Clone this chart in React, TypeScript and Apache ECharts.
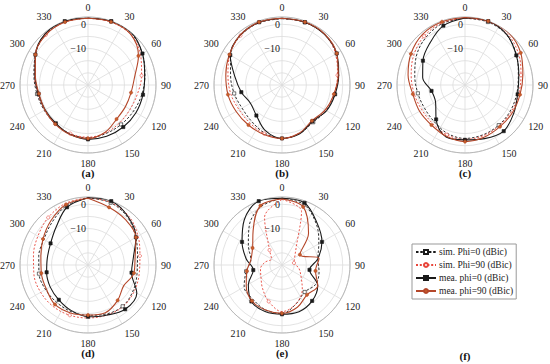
import React, { useEffect, useRef } from 'react';
import * as echarts from 'echarts';

// sample angles (deg, clockwise from top)
const ANGLES = [0, 20, 40, 60, 80, 100, 120, 140, 160, 180, 200, 220, 240, 260, 280, 300, 320, 340];
const ANGLE_TICKS = [0, 30, 60, 90, 120, 150, 180, 210, 240, 270, 300, 330];
const RADIAL_LABELS = [0, -10];
const PANEL_LABELS = ['(a)', '(b)', '(c)', '(d)', '(e)', '(f)'];
const SERIES_NAMES = ['sim. Phi=0 (dBic)', 'sim. Phi=90 (dBic)', 'mea. phi=0 (dBic)', 'mea. phi=90 (dBic)'];

// (a)
const A_SIM0 = [2.5, 2.8, 2.7, 0.8, -1.2, -2.5, -3.4, -3.8, -3.7, -3.2, -3.6, -4.1, -4.2, -3.7, -2.4, 0, 2.2, 2.8];
const A_SIM90 = [2.5, 2.6, 2.2, 0, -2.6, -4.3, -5, -4.7, -4, -3.5, -3.7, -4.1, -4.4, -4.1, -2.6, 0, 2, 2.6];
const A_MEA0 = [2.5, 3, 3, 0.9, -1.3, -2, -2.2, -2.4, -2.5, -2.6, -3.4, -4.4, -4.6, -4.3, -2.8, 0, 2.5, 3];
const A_MEA90 = [2.5, 2.7, 2.3, -1, -5.5, -7, -7.2, -6.7, -4.3, -3, -3.3, -4, -4.5, -4.5, -3, 0, 2, 2.6];
// (b)
const B_SIM0 = [2.3, 2.5, 2.2, 0.8, -1.4, -3, -4, -5, -3.8, -3, -4, -5.5, -6, -5, -3.5, -0.5, 1.5, 2.3];
const B_SIM90 = [2.4, 2.5, 2.2, 0.5, -1.8, -3.3, -4.2, -5.2, -4, -3, -3.7, -4.5, -4.6, -3.6, -2.4, -0.2, 1.6, 2.4];
const B_MEA0 = [2.5, 2.5, 2.2, 1, -1.3, -2.8, -3.8, -5.5, -3.6, -3, -5, -8.6, -10, -8, -5.3, -0.4, 1.8, 2.5];
const B_MEA90 = [2.5, 2.6, 2.4, 1, -1.5, -3.3, -4.5, -5.8, -4, -3, -3.3, -3.5, -3.2, -2.4, -1.5, 0, 1.8, 2.6];
// (c)
const C_SIM0 = [2.5, 2.6, 1.8, -0.5, -2.7, -3.4, -3.5, -3.4, -3.2, -3, -3.8, -5.3, -5.8, -5.3, -4, -1.8, 0.3, 2];
const C_SIM90 = [2.6, 2.8, 2.3, 0.5, -1.6, -2.6, -3, -3.1, -2.8, -2.6, -3.2, -4.3, -4.5, -3.8, -2.5, -0.6, 1.2, 2.3];
const C_MEA0 = [2.6, 3, 1.9, -0.6, -2.5, -3, -1.8, -0.2, -1.5, -2.4, -2.2, -6.5, -11, -11, -7.3, -5, -2.5, 1];
const C_MEA90 = [2.8, 3, 3, 1.5, -0.8, -2, -2.4, -2.6, -2.1, -1.7, -2.5, -3.5, -3.4, -3.2, -1.2, 0.7, 2.2, 2.7];
// (d)
const D_SIM0 = [2.6, 2.3, 0.5, -2.3, -4.3, -4.5, -3.6, -2.8, -3.5, -4.3, -4.6, -4.9, -4.8, -4.5, -4.4, -4, -2, 1];
const D_SIM90 = [2.7, 2.4, 1.2, -1.2, -3.3, -3.6, -3.1, -2.6, -3, -3.2, -3, -2.7, -2.5, -2.4, -2.2, -1.2, 0.5, 2];
const D_MEA0 = [2.7, 3, 0.8, -2.2, -6, -6.8, -1.8, -1.2, -3, -3.7, -5, -6.3, -7, -7.7, -8, -7.2, -4.6, 0.3];
const D_MEA90 = [2.5, 0.3, -0.8, -2.2, -5.3, -5.8, -8, -6, -4.1, -4.4, -4, -3.8, -5.2, -5.5, -5.3, -3.6, -1.2, 1.5];
// (e)
const E_SIM0 = [2.5, 1.5, -3, -7.5, -10, -9.5, -9, -10.5, -8, -5, -5.3, -6.5, -7, -10, -12, -9, -4, 0.5];
const E_SIM90 = [2, -1.5, -16, -19, -20, -18, -16, -12, -8, -5.8, -9, -12.5, -15, -16, -18, -20, -17, -4];
const E_MEA0 = [2.5, 2.2, -2.5, -6, -10, -13.5, -8, -5.7, -4.5, -4.7, -4.6, -5.4, -9, -13, -10, -6, -0.8, 3];
const E_MEA90 = [2.2, 0.5, -8, -16.5, -9.5, -11, -8, -9, -6.5, -5.1, -5.3, -5.7, -8, -10.3, -12, -11, -6.5, 1];

const PANELS = [
  [A_SIM0, A_SIM90, A_MEA0, A_MEA90],
  [B_SIM0, B_SIM90, B_MEA0, B_MEA90],
  [C_SIM0, C_SIM90, C_MEA0, C_MEA90],
  [D_SIM0, D_SIM90, D_MEA0, D_MEA90],
  [E_SIM0, E_SIM90, E_MEA0, E_MEA90],
];

const CENTERS = [[88, 85], [282, 85], [465, 85], [88, 265], [282, 265]];
const LABEL_POS = [[88, 173], [282, 173], [465, 173], [88, 353], [282, 353], [465, 356]];
const RADIUS = 68;
const SERIF = 'Liberation Serif';

const BLACK = '#1a1a1a';
const RED = '#e8453a';
const BROWN = '#b4472a';

const STYLES = [
  { color: BLACK, dash: [2.5, 1.8] as any, width: 0.9, symbol: 'rect', fill: '#fff', markerMod: [6, 1] },
  { color: RED, dash: [2, 1.8] as any, width: 0.9, symbol: 'circle', fill: '#fff', markerMod: [6, 4] },
  { color: BLACK, dash: 'solid', width: 1.1, symbol: 'rect', fill: BLACK, markerMod: [2, 1] },
  { color: BROWN, dash: 'solid', width: 1.1, symbol: 'circle', fill: '#c8602a', markerMod: [2, 1] },
];

export default function App() {
  const ref = useRef<HTMLDivElement>(null);
  useEffect(() => {
    document.body.style.margin = '0';
    const chart = echarts.init(ref.current!, null, { renderer: 'svg' });

    const polar = CENTERS.map((c) => ({ center: c, radius: RADIUS }));
    const angleAxis = CENTERS.map((_, i) => ({
      polarIndex: i,
      type: 'value',
      min: 0,
      max: 360,
      interval: 30,
      startAngle: 90,
      clockwise: true,
      axisLine: { show: true, lineStyle: { color: '#b8b8b8', width: 1 } },
      axisTick: { show: false },
      axisLabel: {
        margin: 5,
        fontFamily: SERIF,
        fontSize: 10,
        color: '#222',
        formatter: (v: number) => (ANGLE_TICKS.includes(v) ? String(v) : ''),
      },
      splitLine: { show: true, lineStyle: { color: '#dcdcdc', width: 0.8 } },
    }));
    const radiusAxis = CENTERS.map((_, i) => ({
      polarIndex: i,
      type: 'value',
      min: -25,
      max: 3,
      interval: 5,
      axisLine: { show: false },
      axisTick: { show: false },
      axisLabel: {
        margin: 2,
        fontFamily: SERIF,
        fontSize: 10,
        color: '#222',
        formatter: (v: number) => (RADIAL_LABELS.includes(v) ? (v < 0 ? '\u2212' + Math.abs(v) : String(v)) : ''),
      },
      splitLine: { show: true, lineStyle: { color: '#dcdcdc', width: 0.8 } },
    }));

    const series: any[] = [];
    PANELS.forEach((panel, p) => {
      panel.forEach((vals, s) => {
        const st = STYLES[s];
        const data: any[] = ANGLES.map((a, i) => {
          const isMarker = i % st.markerMod[0] === st.markerMod[1];
          return isMarker ? { value: [vals[i], a] } : { value: [vals[i], a], symbol: 'none' };
        });
        data.push({ value: [vals[0], 360], symbol: 'none' });
        series.push({
          name: SERIES_NAMES[s],
          type: 'line',
          coordinateSystem: 'polar',
          polarIndex: p,
          data,
          smooth: 0.35,
          symbol: st.symbol,
          symbolSize: 3.2,
          showSymbol: true,
          color: st.color,
          lineStyle: { color: st.color, width: st.width, type: st.dash },
          itemStyle: { color: st.fill, borderColor: st.color, borderWidth: 0.6 },
          silent: true,
          z: s >= 2 ? 3 : 2,
        });
      });
    });

    const graphic = PANEL_LABELS.map((t, i) => ({
      type: 'text',
      x: LABEL_POS[i][0],
      y: LABEL_POS[i][1],
      style: {
        text: t,
        fontFamily: SERIF,
        fontSize: 11,
        fontWeight: 'bold',
        fill: '#111',
        textAlign: 'center',
        textVerticalAlign: 'middle',
      },
    }));

    chart.setOption({
      animation: false,
      backgroundColor: '#fff',
      polar,
      angleAxis,
      radiusAxis,
      legend: {
        data: SERIES_NAMES,
        orient: 'vertical',
        left: 412,
        top: 244,
        itemWidth: 20,
        itemHeight: 5,
        itemGap: 3,
        padding: [3, 3, 3, 3],
        borderColor: '#999',
        borderWidth: 1,
        backgroundColor: '#fff',
        selectedMode: false,
        textStyle: { fontFamily: SERIF, fontSize: 9.5, color: '#222', padding: [0, 0, 0, -2] },
      },
      graphic,
      series,
    });
    return () => chart.dispose();
  }, []);
  return <div ref={ref} style={{ width: 550, height: 364 }} />;
}
